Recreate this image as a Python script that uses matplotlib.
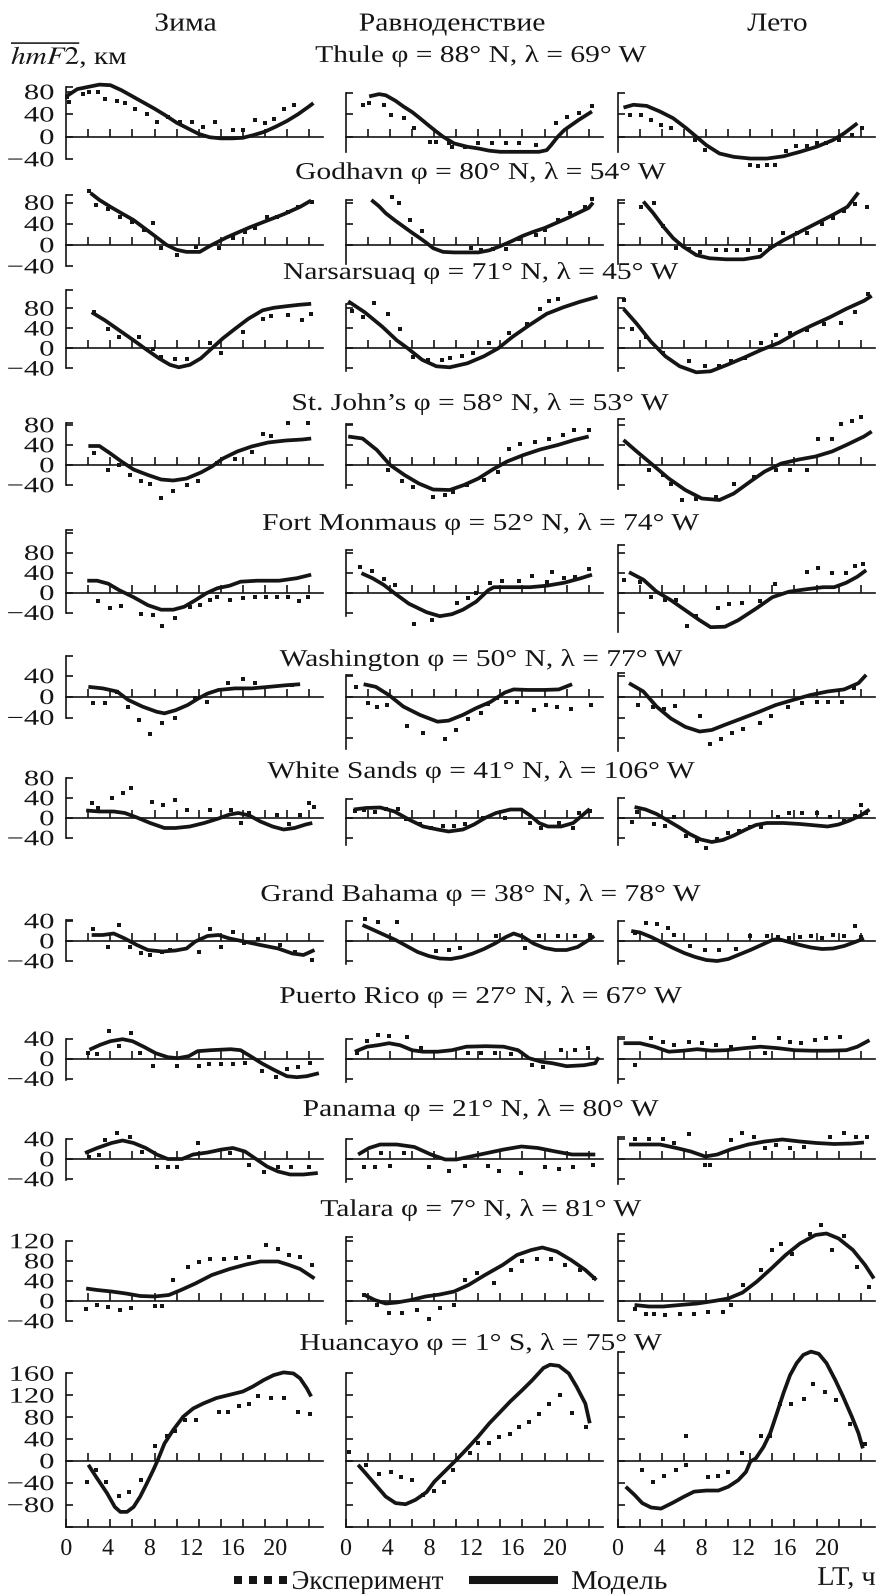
import numpy as np
import matplotlib
matplotlib.use("Agg")
import matplotlib.pyplot as plt
from matplotlib.lines import Line2D
from matplotlib.textpath import TextPath
from matplotlib.patches import PathPatch
from matplotlib.font_manager import FontProperties
from matplotlib.transforms import Affine2D, IdentityTransform

plt.rcParams["font.family"] = ["Liberation Serif", "DejaVu Serif"]
plt.rcParams["mathtext.fontset"] = "stix"

# ── data: (hour LT, deviation of hmF2 in km) ──────────────────────────────────
SEASONS = ["Зима", "Равноденствие", "Лето"]
STATIONS = [
    "Thule φ = 88° N, λ = 69° W",
    "Godhavn φ = 80° N, λ = 54° W",
    "Narsarsuaq φ = 71° N, λ = 45° W",
    "St. John’s φ = 58° N, λ = 53° W",
    "Fort Monmaus φ = 52° N, λ = 74° W",
    "Washington φ = 50° N, λ = 77° W",
    "White Sands φ = 41° N, λ = 106° W",
    "Grand Bahama φ = 38° N, λ = 78° W",
    "Puerto Rico φ = 27° N, λ = 67° W",
    "Panama φ = 21° N, λ = 80° W",
    "Talara φ = 7° N, λ = 81° W",
    "Huancayo φ = 1° S, λ = 75° W",
]

thule_win_model = [(0, 72), (1, 85), (2, 89), (3, 93), (4, 92), (5, 83), (6, 72), (7, 61), (8, 50), (9, 38), (10, 25), (11, 15), (12, 5), (13, -1), (14, -3), (15, -3), (16, -2), (17, 3), (18, 9), (19, 18), (20, 28), (21, 40), (22, 54), (22.4, 60)]
thule_win_exp = [(0.1, 71), (0.2, 62), (1.5, 77), (2.1, 79), (2.9, 80), (3.5, 68), (4.6, 64), (5.3, 60), (6.2, 50), (7.3, 40), (8.2, 26), (9.2, 36), (10.3, 26), (11.4, 26), (12.4, 18), (13.5, 26), (15.1, 12), (16, 12), (17.1, 29), (18, 25), (18.8, 32), (19.7, 50), (20.6, 57)]
thule_equ_model = [(2.1, 72), (3, 76), (3.6, 74), (4.5, 64), (5.2, 54), (6, 44), (6.7, 33), (7.5, 20), (8.2, 9), (8.8, 0), (9.8, -12), (11, -18), (12, -21), (13, -25), (14, -27), (16, -27), (17.5, -27), (18.2, -24), (18.6, -15), (19.2, 0), (19.8, 12), (21.1, 30), (22.3, 45)]
thule_equ_exp = [(1.5, 57), (2.1, 61), (3.4, 57), (4.1, 39), (5.3, 33), (6.2, 15), (7.6, -9), (8.2, -9), (9.3, -12), (9.6, -18), (10.8, -18), (12, -12), (13.2, -12), (14.5, -12), (15.7, -12), (17.2, -15), (19, 24), (20, 36), (21.1, 42), (22.3, 54)]
thule_sum_model = [(0.5, 52), (1.4, 57), (2.6, 55), (3.8, 45), (5, 33), (6.2, 15), (7.1, 0), (8, -15), (9.2, -30), (10.5, -36), (12, -39), (13.5, -39), (15, -35), (16.5, -27), (18, -18), (19.5, -6), (20.5, 6), (21.7, 24)]
thule_sum_exp = [(1.1, 39), (2.1, 39), (3, 29), (3.9, 21), (4.8, 15), (7, -6), (7.9, -24), (12, -51), (12.7, -52), (13.5, -51), (14.2, -51), (15.2, -25), (16.1, -17), (17.1, -17), (18, -12), (18.9, -12), (20, -6), (21.2, 3), (22.1, 15)]

godhavn_win_model = [(2.2, 98), (3, 85), (4, 72), (5, 60), (6.1, 47), (7, 33), (7.9, 19), (9.1, 0), (10, -9), (10.9, -13), (12.1, -13), (13, -2), (14.5, 14), (16.6, 33), (18.2, 46), (19.7, 58), (21.2, 72), (22.2, 84)]
godhavn_win_exp = [(2.1, 102), (2.7, 75), (3.8, 67), (4.9, 52), (6, 44), (7, 28), (7.9, 42), (8.6, -6), (10, -19), (11.8, -3), (13.8, -6), (15.1, 14), (16.2, 25), (17.1, 33), (18.2, 52), (19.1, 52), (20.1, 63), (21, 72), (22.3, 82)]
godhavn_equ_model = [(2.3, 85), (3, 73), (3.6, 60), (4.4, 47), (5.2, 35), (6, 23), (6.7, 13), (7.3, 4), (7.9, -6), (8.8, -13), (9.8, -14), (11, -14), (12, -14), (13, -10), (14, -2), (15, 7), (16, 17), (17, 25), (18, 32), (19, 41), (20, 50), (21, 60), (22, 70), (22.4, 80)]
godhavn_equ_exp = [(4.2, 90), (4.8, 80), (5.8, 47), (6.9, 27), (11.3, -6), (12.2, -10), (13.3, -8), (14.5, -8), (15.7, 12), (17.2, 19), (18, 28), (19.2, 47), (20.3, 61), (21.7, 72), (22.3, 86)]
godhavn_sum_model = [(2.3, 82), (3.2, 60), (4.1, 35), (5, 13), (5.9, -3), (7.1, -19), (8.3, -25), (9.8, -27), (11.4, -27), (12.9, -22), (13.8, -6), (15, 9), (16.5, 25), (18, 41), (19.5, 57), (20.8, 72), (21.8, 99)]
godhavn_sum_exp = [(2.1, 72), (3.3, 80), (4.1, 35), (5.3, -6), (6.4, -8), (7.4, -13), (8.9, -9), (9.8, -9), (10.8, -9), (11.8, -9), (12.9, -9), (13.8, -6), (15, 22), (16.2, 22), (17.1, 22), (18.5, 40), (19.5, 50), (20.5, 65), (21.5, 77), (22.6, 72)]

narsarsuaq_win_model = [(2.3, 72), (3.5, 56), (4.8, 36), (6.1, 16), (7.1, 0), (8.4, -20), (9.4, -33), (10.2, -38), (11.2, -33), (12.2, -20), (13.2, 0), (14.2, 20), (15.3, 39), (16.5, 59), (17.8, 76), (18.8, 81), (19.9, 84), (21.1, 87), (22.2, 89)]
narsarsuaq_win_exp = [(2.5, 72), (3.8, 39), (4.8, 22), (6.6, 23), (7.9, -2), (8.6, -18), (9.9, -22), (10.9, -22), (13, 11), (14, -10), (16, 33), (17.8, 59), (18.6, 64), (20.1, 67), (21.4, 57), (22.2, 69)]
narsarsuaq_equ_model = [(0.2, 94), (1.7, 72), (3.3, 43), (4.6, 16), (5.6, 0), (6.9, -23), (8.2, -36), (9.4, -38), (11, -30), (12.5, -16), (13.8, 0), (15.1, 23), (16.6, 46), (18.2, 69), (19.7, 82), (21.2, 93), (22.8, 103)]
narsarsuaq_equ_exp = [(0.5, 74), (1.5, 63), (2.5, 90), (3.8, 69), (4.9, 38), (6.1, -18), (7.4, -24), (8.7, -24), (9.4, -20), (10.5, -16), (11.5, -10), (13, 11), (14.8, 31), (16.4, 49), (17.6, 78), (18.4, 95), (19.2, 99)]
narsarsuaq_sum_model = [(0.5, 79), (1.7, 49), (3, 13), (4.3, -16), (5.6, -36), (7.1, -48), (8.4, -46), (9.9, -33), (11.5, -18), (13, -3), (14.6, 11), (16.1, 30), (17.6, 46), (19.2, 62), (20.7, 79), (22.3, 95), (23, 105)]
narsarsuaq_sum_exp = [(0.5, 97), (1.3, 39), (2.5, 23), (4.1, -9), (6.4, -26), (7.9, -36), (9.2, -36), (10.2, -26), (11.5, -20), (13, 10), (14.3, 26), (15.6, 31), (17.1, 36), (18.7, 48), (20.2, 51), (21.5, 72), (22.7, 108)]

stjohns_win_model = [(2, 38), (3, 38), (4, 23), (5, 7), (6.1, -9), (7.4, -20), (8.6, -29), (9.7, -31), (10.9, -27), (12.2, -15), (13.2, -3), (14.2, 13), (15.5, 27), (16.8, 37), (18.3, 45), (19.9, 49), (21.4, 51), (22.2, 53)]
stjohns_win_exp = [(2.5, 25), (3.8, -10), (4.8, 0), (5.8, -20), (6.8, -31), (7.6, -37), (8.6, -65), (9.7, -51), (10.9, -40), (11.9, -31), (13.7, 5), (15.3, 13), (16.8, 27), (17.8, 63), (18.6, 59), (20.1, 85), (21.9, 85)]
stjohns_equ_model = [(0.2, 57), (1.5, 53), (2.8, 30), (4, 0), (5.3, -20), (6.6, -37), (7.9, -49), (9.4, -50), (10.7, -40), (12, -27), (13.3, -9), (14.6, 7), (16.1, 20), (17.6, 31), (19.2, 40), (20.7, 50), (22, 57)]
stjohns_equ_exp = [(3.8, -10), (5.1, -31), (6.1, -43), (7.9, -63), (9, -60), (9.7, -53), (11, -40), (12.5, -30), (13.8, -13), (14.8, 33), (15.8, 43), (17.1, 47), (18.4, 53), (19.7, 60), (20.7, 71), (22, 71)]
stjohns_sum_model = [(0.5, 50), (1.7, 27), (3, 3), (4.6, -27), (6.1, -50), (7.6, -67), (9.2, -70), (10.5, -57), (12, -33), (13.3, -13), (14.8, 3), (16.4, 11), (17.9, 17), (19.4, 27), (20.7, 40), (22.3, 57), (23, 67)]
stjohns_sum_exp = [(2.8, -10), (4.1, -20), (4.8, -37), (5.8, -69), (7.1, -67), (8.9, -63), (10.5, -37), (12.3, -23), (14.3, -10), (15.6, -10), (17.1, -10), (18.1, 53), (19.4, 53), (20.2, 82), (21.2, 89), (22, 97)]

fortmon_win_model = [(1.9, 24), (2.8, 24), (3.8, 18), (4.8, 5), (6.1, -9), (7.4, -25), (8.6, -34), (9.7, -34), (10.7, -28), (11.7, -15), (12.7, -1), (13.7, 9), (14.8, 14), (15.8, 22), (17.3, 24), (19.3, 24), (20.9, 29), (22.2, 36)]
fortmon_win_exp = [(2.9, -16), (4, -30), (5, -27), (6.8, -42), (7.9, -45), (8.7, -66), (9.9, -50), (11.2, -28), (12.1, -25), (13, -15), (13.7, -9), (14.8, -14), (16, -11), (17.1, -9), (18.1, -9), (19.1, -9), (20.1, -9), (21.1, -16), (21.9, -9)]
fortmon_equ_model = [(1.4, 39), (2.4, 29), (3.4, 16), (4.4, -1), (5.7, -22), (7.3, -39), (8.5, -47), (9.6, -43), (10.6, -34), (11.8, -18), (12.9, 5), (13.4, 11), (14.7, 11), (16.7, 11), (18.2, 14), (19.8, 20), (21.3, 29), (22.3, 36)]
fortmon_equ_exp = [(1.3, 51), (2.4, 43), (3.4, 27), (4.4, 16), (6.2, -62), (7.8, -54), (10.1, -20), (11.1, -11), (11.8, -1), (13.1, 19), (14.1, 24), (15.7, 24), (16.9, 34), (18.2, 22), (18.7, 41), (19.8, 29), (20.8, 32), (22, 47)]
fortmon_sum_model = [(1, 41), (2.3, 26), (3.5, 2), (4.8, -15), (6.1, -35), (7.4, -55), (8.4, -69), (9.7, -68), (10.9, -55), (12.5, -32), (14, -9), (15.5, 2), (17.1, 7), (18.6, 11), (19.6, 11), (20.7, 20), (21.7, 32), (22.5, 45)]
fortmon_sum_exp = [(0.5, 26), (2, 22), (3, -9), (4.3, -14), (5.3, -14), (6.3, -66), (7.1, -47), (9.1, -30), (10.1, -23), (11.2, -20), (12.9, -16), (14.2, 18), (17.1, 42), (18.1, 49), (19.4, 39), (20.7, 39), (21.5, 54), (22.2, 58)]

washington_win_model = [(2, 19), (3.3, 16), (4.6, 10), (5.6, -6), (6.9, -19), (8.2, -29), (8.9, -32), (9.9, -26), (11, -16), (12, -3), (12.8, 6), (13.8, 13), (15.3, 16), (16.8, 16), (18.4, 19), (19.9, 22), (21.2, 24)]
washington_win_exp = [(2.4, -12), (3.5, -12), (4.6, 10), (5.6, -19), (6.6, -44), (7.6, -71), (8.7, -51), (9.9, -40), (11.7, -3), (12.8, -10), (14.7, 26), (16, 35), (17.1, 26), (20.5, 22)]
washington_equ_model = [(1.6, 24), (2.7, 19), (3.9, 3), (5.2, -19), (6.7, -35), (8.3, -48), (9.3, -46), (10.6, -35), (11.8, -22), (13.1, -10), (14.4, 8), (15.2, 14), (16.5, 13), (18, 13), (19.3, 14), (20.5, 24)]
washington_equ_exp = [(0.9, 18), (2, -13), (2.8, -19), (3.7, -16), (5.5, -56), (7, -69), (9, -82), (10, -64), (11.1, -42), (12.2, -31), (12.9, -14), (13.7, -3), (14.5, -10), (15.5, -10), (17, -26), (18.1, -16), (19.1, -19), (20.4, -24), (22.2, -16)]
washington_sum_model = [(1, 26), (2.3, 10), (3.5, -19), (4.8, -42), (6.1, -58), (7.4, -67), (8.5, -64), (9.7, -54), (11.2, -42), (12.8, -29), (14.3, -16), (15.9, -6), (17.4, 3), (19, 10), (20.5, 14), (21.8, 26), (22.5, 42)]
washington_sum_exp = [(1.8, -16), (3.2, -19), (4.2, -24), (5.2, -18), (7.4, -37), (8.3, -90), (9.3, -82), (10.3, -70), (11.3, -63), (12.9, -51), (13.9, -38), (15.4, -19), (16.7, -12), (18, -10), (19, -10), (20.3, -10), (21.4, 16)]

whitesands_win_model = [(1.8, 15), (3, 13), (4.3, 13), (5.3, 10), (6.4, 1), (7.6, -10), (8.9, -20), (9.9, -20), (11.2, -17), (12.5, -10), (13.8, -1), (14.8, 7), (15.6, 10), (16.6, 5), (17.6, -7), (18.7, -17), (19.7, -23), (20.7, -20), (21.7, -13), (22.3, -10)]
whitesands_win_exp = [(2.3, 30), (2.9, 20), (4.1, 40), (5.1, 50), (5.9, 60), (7.8, 32), (8.8, 25), (9.9, 36), (10.9, 15), (13, 15), (14.9, 15), (15.8, -10), (16.6, 10), (19.1, 5), (20.2, -12), (21.2, 5), (22, 30), (22.5, 22)]
whitesands_equ_model = [(0.7, 17), (1.8, 20), (3.1, 21), (4.4, 13), (5.7, -3), (7, -17), (8.3, -23), (9.3, -27), (10.6, -23), (11.6, -13), (12.6, 0), (13.6, 10), (14.9, 17), (15.9, 17), (16.7, 5), (17.5, -10), (18.3, -17), (19.5, -17), (20.6, -10), (21.3, 3), (22.1, 18)]
whitesands_equ_exp = [(0.8, 13), (1.6, 15), (2.6, 12), (3.6, 17), (4.7, 17), (5.4, -3), (6.7, -13), (7.7, -20), (8.8, -17), (9.8, -17), (10.8, -13), (12.4, 0), (14.4, 0), (16.7, -10), (17.7, -20), (19.3, -10), (20.6, -20), (21.1, 10), (22.1, 13)]
whitesands_sum_model = [(1.5, 22), (2.5, 17), (3.5, 8), (4.5, -5), (5.5, -18), (6.5, -32), (7.5, -43), (8.5, -48), (9.5, -44), (10.5, -35), (11.5, -24), (12.5, -14), (13.5, -10), (15, -10), (16.5, -12), (18, -15), (19, -17), (20, -13), (21, -5), (22, 5), (22.8, 17)]
whitesands_sum_exp = [(1.3, -7), (1.7, 13), (3.3, -12), (4.3, -15), (5.1, 3), (6.2, -35), (7.2, -45), (8, -60), (9, -42), (10, -30), (11, -25), (12, -18), (13, -18), (14.5, 2), (15.5, 10), (16.7, 10), (18, 10), (19.2, 2), (20.5, -5), (21.5, 5), (22, 27), (22.5, 10)]

bahama_win_model = [(2.3, 12), (3.3, 12), (4.3, 15), (5.3, 5), (6.4, -8), (7.4, -18), (8.7, -21), (9.9, -19), (10.9, -15), (11.7, -1), (12.8, 10), (13.8, 12), (14.8, 5), (16.1, -1), (17.6, -8), (19.2, -15), (20.5, -25), (21.5, -28), (22.5, -18)]
bahama_win_exp = [(2.4, 25), (3.8, -11), (4.8, 32), (5.8, -11), (6.8, -23), (7.6, -28), (8.7, -21), (9.4, -18), (12, -21), (13, 25), (14, -11), (15.1, 19), (16.1, -3), (17.4, 5), (19.4, -8), (20.7, -21), (22.3, -38)]
bahama_equ_model = [(1.5, 32), (2.5, 22), (3.5, 12), (4.5, 2), (5.5, -10), (6.5, -22), (7.5, -30), (8.5, -35), (9.5, -36), (10.5, -32), (11.5, -25), (12.5, -16), (13.5, -5), (14.5, 8), (15.2, 15), (16, 9), (17, -5), (18, -14), (19, -18), (20, -18), (21, -12), (22, 2), (22.5, 10)]
bahama_equ_exp = [(1.7, 43), (2.9, 37), (4.6, 37), (8.2, -21), (9.3, -18), (10.3, -15), (13.6, 10), (16.2, -15), (17.5, 10), (19.2, 10), (20.8, 10), (22.1, 12)]
bahama_sum_model = [(1.2, 20), (2, 17), (3, 8), (4, -3), (5, -14), (6, -24), (7, -32), (8, -38), (9, -40), (10, -36), (11, -27), (12, -18), (13, -8), (14, 2), (14.5, 4), (15.5, -2), (16.5, -8), (17.5, -13), (18.5, -16), (19.5, -15), (20.5, -10), (21.5, -2), (22.3, 5)]
bahama_sum_exp = [(1.5, 15), (2.5, 35), (3.5, 33), (4.5, 25), (5.1, 12), (6.5, -10), (7.9, -18), (9.2, -18), (10.7, -17), (12, 10), (13.5, 10), (14.5, 8), (15.5, 5), (16.5, 8), (17.5, 10), (18.5, 5), (19.5, 12), (20.5, 10), (21.5, 30), (22, 8)]

puerto_win_model = [(2.1, 18), (3.1, 28), (4, 35), (5.1, 39), (6, 35), (7.1, 23), (8.1, 11), (9.2, 3), (10.1, 1), (11.1, 5), (11.9, 15), (13.1, 17), (14.9, 19), (15.8, 17), (16.7, 5), (17.7, -9), (18.8, -22), (20, -35), (20.9, -37), (21.8, -35), (22.9, -29)]
puerto_win_exp = [(2, 12), (2.8, 9), (3.9, 55), (4.8, 25), (5.9, 51), (6.7, 12), (7.9, -15), (10, -15), (12, -15), (12.9, -11), (14, -11), (15.1, -11), (16.2, -9), (17.7, -24), (19, -36), (20, -21), (21, -17), (22.1, -9)]
puerto_equ_model = [(0.8, 14), (1.9, 24), (2.9, 27), (3.9, 31), (4.9, 27), (6, 17), (7, 14), (8.3, 14), (9.6, 17), (10.9, 24), (12.7, 25), (14.3, 24), (15.6, 17), (16.6, 1), (17.7, -6), (18.7, -9), (20, -15), (21.6, -13), (22.6, -9), (22.9, 3)]
puerto_equ_exp = [(1, 11), (1.9, 36), (2.9, 47), (3.9, 45), (5.5, 43), (6.8, 21), (11.1, 11), (12.2, 11), (13.5, 11), (15, 9), (16.9, -13), (17.9, -17), (19.5, 17), (20.8, 17), (21.9, 21)]
puerto_sum_model = [(0.5, 31), (2, 31), (3.3, 24), (4.6, 14), (5.9, 16), (7.2, 19), (8.5, 16), (9.8, 17), (11.4, 21), (12.9, 24), (14.5, 21), (16, 17), (17.6, 16), (19.1, 16), (20.7, 17), (21.7, 24), (22.8, 37)]
puerto_sum_exp = [(1.5, -13), (3, 41), (4.1, 34), (5.1, 27), (6.4, 34), (7.6, 31), (8.9, 27), (10.2, 24), (12.3, 41), (13.3, 12), (14.6, 41), (15.6, 34), (16.6, 31), (17.9, 37), (18.9, 41), (20.1, 44)]

panama_win_model = [(1.7, 12), (2.8, 22), (4.1, 32), (5.1, 37), (6.1, 32), (7.2, 22), (8.2, 9), (9.2, 0), (10.5, 0), (11.5, 9), (12.8, 13), (14.1, 19), (15.1, 22), (16.2, 15), (17.2, 0), (18.2, -15), (19.2, -25), (20.3, -31), (21.5, -31), (22.8, -28)]
panama_win_exp = [(2.1, 5), (3, 9), (3.5, 39), (4.6, 52), (5.8, 45), (6.9, 15), (8.2, -16), (9.2, -15), (10, -16), (11.9, 32), (14.8, 12), (16.6, -11), (17.9, -25), (19.2, -16), (20.4, -16), (22, -16)]
panama_equ_model = [(1.1, 9), (2.1, 22), (3.1, 29), (4.6, 29), (6.2, 24), (7.7, 9), (9, -1), (10, -1), (11.3, 5), (12.8, 12), (14.3, 19), (15.9, 25), (17.4, 22), (19, 15), (20.5, 9), (22.1, 9), (22.6, 9)]
panama_equ_exp = [(1.6, -15), (2.6, -15), (3.2, 12), (4, -13), (5.3, 12), (7.5, -16), (9.3, -23), (10.8, -13), (12.9, -13), (13.9, -23), (15.9, -28), (18, -16), (19.3, -20), (20.6, -15), (22.4, -11)]
panama_sum_model = [(1, 29), (2.3, 29), (3.8, 29), (5.3, 22), (6.6, 15), (7.9, 5), (9, 9), (10.2, 19), (11.8, 29), (13.3, 35), (14.9, 39), (16.5, 35), (18, 32), (19.6, 30), (21.2, 31), (22.3, 33)]
panama_sum_exp = [(1.5, 40), (2.8, 40), (4.1, 40), (5.1, 33), (6.4, 51), (7.9, -11), (8.3, -11), (10.2, 39), (11.2, 52), (12.3, 45), (13.3, 22), (14.3, 29), (15.6, 22), (16.9, 24), (19.2, 45), (20.5, 52), (21.6, 44), (22.6, 44)]

talara_win_model = [(1.8, 25), (2.8, 22), (4.1, 19), (5.4, 15), (6.7, 10), (8, 9), (9.3, 12), (10.4, 22), (11.7, 35), (13.2, 52), (14.8, 64), (16.3, 73), (17.6, 79), (19.2, 79), (20.2, 72), (21.2, 64), (22.5, 45)]
talara_win_exp = [(1.8, -15), (2.8, -8), (3.8, -11), (4.9, -18), (5.9, -13), (8, -9), (8.7, -9), (9.7, 42), (11, 69), (12, 78), (13, 84), (14.3, 85), (15.4, 87), (16.6, 89), (18.1, 112), (19.2, 104), (20.2, 92), (21.2, 89), (22.3, 72)]
talara_equ_model = [(1.6, 13), (2.6, 2), (3.6, -5), (4.6, -3), (5.9, 2), (7.2, 9), (8.5, 13), (9.8, 19), (11.1, 32), (12.6, 52), (14.2, 72), (15.5, 92), (16.8, 102), (17.8, 107), (19.1, 99), (20.4, 82), (21.7, 62), (22.7, 42)]
talara_equ_exp = [(1.6, 12), (2.8, -8), (3.9, -23), (5.1, -23), (6.4, -18), (7.5, -36), (8.5, -13), (9.8, -8), (10.8, 42), (11.9, 57), (13.4, 37), (15, 62), (16, 80), (17.3, 85), (18.6, 85), (19.9, 72), (21.2, 62), (22.5, 47)]
talara_sum_model = [(1.5, -8), (2.8, -11), (4.1, -11), (5.6, -8), (7.2, -5), (8.7, 0), (10, 5), (11.3, 17), (12.6, 39), (13.9, 65), (15.2, 92), (16.5, 115), (17.9, 132), (18.9, 135), (20, 125), (21.3, 102), (22.4, 72), (23.2, 45)]
talara_sum_exp = [(1.5, -15), (2.5, -25), (3.3, -25), (4.3, -28), (5.6, -25), (6.9, -25), (8.2, -21), (9.5, -21), (10.2, -8), (11.3, 32), (13, 62), (14, 102), (14.8, 115), (15.8, 95), (17.4, 135), (18.4, 152), (19.4, 102), (20.5, 130), (21.7, 69), (22.8, 29)]

huancayo_win_model = [(2, -7), (2.7, -29), (3.7, -59), (4.4, -84), (4.9, -93), (5.5, -93), (6.1, -84), (6.7, -65), (7.3, -41), (7.9, -16), (8.3, 2), (8.9, 32), (9.7, 57), (10.6, 81), (11.5, 96), (12.4, 105), (13.6, 115), (14.8, 121), (16, 127), (16.9, 136), (17.9, 148), (18.8, 157), (19.7, 162), (20.6, 160), (21.2, 151), (21.8, 133), (22.2, 118)]
huancayo_win_exp = [(1.9, -38), (2.7, -16), (3.6, -38), (4.8, -64), (5.7, -56), (6.8, -35), (8, 28), (9.1, 45), (9.9, 54), (10.8, 75), (11.8, 75), (13.8, 90), (14.7, 90), (15.7, 101), (16.6, 104), (17.4, 119), (18.6, 115), (19.7, 115), (21, 90), (22.1, 86)]
huancayo_equ_model = [(1.1, -7), (1.8, -23), (2.7, -44), (3.6, -65), (4.5, -77), (5.4, -79), (6.3, -71), (7.3, -57), (8, -38), (9.1, -16), (10, 2), (11, 23), (12, 45), (13, 69), (14, 90), (14.9, 109), (16, 130), (16.9, 148), (17.9, 170), (18.5, 176), (19.3, 174), (20.2, 160), (20.9, 136), (21.7, 105), (22.1, 69)]
huancayo_equ_exp = [(0.3, 17), (1.8, -7), (3, -23), (4.1, -20), (5, -30), (6, -35), (7, -62), (8, -55), (8.9, -38), (9.7, -16), (11.2, 14), (12, 32), (13, 32), (13.9, 43), (14.9, 49), (15.7, 62), (16.6, 72), (17.5, 86), (18.4, 105), (19.4, 121), (20.5, 87), (21.8, 62)]
huancayo_sum_model = [(0.7, -47), (1.5, -62), (2.2, -77), (3, -85), (3.9, -87), (4.9, -77), (6, -65), (6.9, -56), (8, -54), (9.1, -54), (10, -47), (10.9, -35), (11.6, -20), (12, -1), (12.5, 5), (13.2, 26), (13.8, 51), (14.4, 87), (15, 124), (15.6, 157), (16.2, 179), (16.8, 194), (17.5, 200), (18.2, 196), (18.9, 179), (19.7, 148), (20.4, 118), (21.2, 81), (21.8, 51), (22.2, 23)]
huancayo_sum_exp = [(2.2, -16), (3.2, -38), (4.2, -27), (5.3, -16), (6.2, -7), (6.2, 46), (8.2, -30), (9.1, -27), (10, -20), (11.2, 14), (13, 46), (13.8, 46), (14.7, 104), (15.7, 104), (16.9, 113), (17.7, 141), (18.8, 127), (19.8, 112), (21, 68), (22.4, 31)]

# y tick labels shown on the left column of each row, hour labels of the last row
LEFT_LABELS = [
    [80, 40, 0, -40], [80, 40, 0, -40], [80, 40, 0, -40], [80, 40, 0, -40],
    [80, 40, 0, -40], [40, 0, -40], [80, 40, 0, -40], [40, 0, -40],
    [40, 0, -40], [40, 0, -40], [120, 80, 40, 0, -40],
    [160, 120, 80, 40, 0, -40, -80],
]
HOUR_LABELS = [0, 4, 8, 12, 16, 20]

PANELS = [
    [(thule_win_model, thule_win_exp), (thule_equ_model, thule_equ_exp), (thule_sum_model, thule_sum_exp)],
    [(godhavn_win_model, godhavn_win_exp), (godhavn_equ_model, godhavn_equ_exp), (godhavn_sum_model, godhavn_sum_exp)],
    [(narsarsuaq_win_model, narsarsuaq_win_exp), (narsarsuaq_equ_model, narsarsuaq_equ_exp), (narsarsuaq_sum_model, narsarsuaq_sum_exp)],
    [(stjohns_win_model, stjohns_win_exp), (stjohns_equ_model, stjohns_equ_exp), (stjohns_sum_model, stjohns_sum_exp)],
    [(fortmon_win_model, fortmon_win_exp), (fortmon_equ_model, fortmon_equ_exp), (fortmon_sum_model, fortmon_sum_exp)],
    [(washington_win_model, washington_win_exp), (washington_equ_model, washington_equ_exp), (washington_sum_model, washington_sum_exp)],
    [(whitesands_win_model, whitesands_win_exp), (whitesands_equ_model, whitesands_equ_exp), (whitesands_sum_model, whitesands_sum_exp)],
    [(bahama_win_model, bahama_win_exp), (bahama_equ_model, bahama_equ_exp), (bahama_sum_model, bahama_sum_exp)],
    [(puerto_win_model, puerto_win_exp), (puerto_equ_model, puerto_equ_exp), (puerto_sum_model, puerto_sum_exp)],
    [(panama_win_model, panama_win_exp), (panama_equ_model, panama_equ_exp), (panama_sum_model, panama_sum_exp)],
    [(talara_win_model, talara_win_exp), (talara_equ_model, talara_equ_exp), (talara_sum_model, talara_sum_exp)],
    [(huancayo_win_model, huancayo_win_exp), (huancayo_equ_model, huancayo_equ_exp), (huancayo_sum_model, huancayo_sum_exp)],
]

# ── layout (pixels of the 876x1594 picture) ───────────────────────────────────
W, H = 876, 1594
INK = "#151515"
COL_X = [66.3, 346.0, 618.0]
PX_PER_H = 11.03
LABEL_PX_PER_H = 10.45      # hour labels in the scan sit a little left of their ticks
X_MAX = 23.3
ROW_ZERO = [136.7, 245, 348.3, 465, 592.7, 696.7, 818, 941, 1058.7, 1159, 1301, 1461]
ROW_SCALE = [0.56, 0.53, 0.5, 0.5, 0.5, 0.52, 0.5, 0.5, 0.5, 0.5, 0.5, 0.547]
TITLE_Y = [54, 171, 271, 402, 522, 658, 770, 893, 995, 1108, 1208, 1342]
BOTTOM_AXIS = -120
SPINES = [
    [(-40, 88), (-28, 78), (-28, 78)],
    [(-40, 95), (-35, 85), (-35, 85)],
    [(-40, 117), (-45, 88), (-45, 100)],
    [(-40, 85), (-45, 83), (-47, 93)],
    [(-40, 125), (-47, 85), (-78, 95)],
    [(-40, 78), (-100, 42), (-105, 45)],
    [(-40, 80), (-55, 38), (-55, 40)],
    [(-40, 42), (-46, 40), (-46, 40)],
    [(-42, 40), (-46, 40), (-49, 43)],
    [(-42, 40), (-46, 40), (-50, 45)],
    [(-40, 120), (-45, 128), (-40, 135)],
    [(BOTTOM_AXIS, 160), (BOTTOM_AXIS, 160), (BOTTOM_AXIS, 200)],
]

SERIF = FontProperties(family="Liberation Serif")


def fx(px):
    return px / W


def fy(py):
    return 1 - py / H


def minus(v):
    return str(v).replace("-", "\u2212")


fig = plt.figure(figsize=(W / 100, H / 100), dpi=100)


def put_text(x, y, text, em, stretch=1.0, ha="center"):
    """Text as a path, widened like the scanned original; y is the middle of the capitals."""
    path = TextPath((0, 0), text, size=em, prop=SERIF)
    ext = path.get_extents()
    width = ext.width * stretch
    x0 = {"left": x, "center": x - width / 2, "right": x - width}[ha]
    tr = (Affine2D().translate(-ext.x0, 0).scale(stretch, 1.0)
          .translate(x0, H - y - 0.33 * em))
    fig.add_artist(PathPatch(tr.transform_path(path), transform=IdentityTransform(),
                             facecolor=INK, edgecolor="none", lw=0))


for r in range(len(STATIONS)):
    s = ROW_SCALE[r]
    last = r == len(STATIONS) - 1
    for c in range(3):
        lo, hi = SPINES[r][c]
        top_px = ROW_ZERO[r] - hi * s
        bot_px = ROW_ZERO[r] - lo * s
        ax = fig.add_axes([fx(COL_X[c]), fy(bot_px), PX_PER_H * X_MAX / W, (bot_px - top_px) / H])
        ax.set_xlim(0, X_MAX)
        ax.set_ylim(lo, hi)
        ax.patch.set_visible(False)
        for side in ("top", "right"):
            ax.spines[side].set_visible(False)
        ax.spines["left"].set_linewidth(1.2)
        ax.spines["left"].set_color(INK)

        ticks = sorted({v for v in range(-160, 241, 40) if lo - 1 <= v <= hi + 1} | {hi})
        ax.set_yticks(ticks)
        ax.set_yticklabels([])
        ax.tick_params(axis="y", direction="in", length=5, width=1.2, colors=INK)
        if c == 0:
            for v in LEFT_LABELS[r]:
                put_text(COL_X[0] - 13, ROW_ZERO[r] - v * s, minus(v), 22, 1.39, ha="right")

        if last:
            ax.spines["bottom"].set_linewidth(1.2)
            ax.spines["bottom"].set_color(INK)
            ax.set_xticks(np.arange(0, 23, 2))
            ax.set_xticklabels([])
            ax.tick_params(axis="x", direction="in", length=6, width=1.2, colors=INK)
            for h in HOUR_LABELS:
                put_text(COL_X[c] + h * LABEL_PX_PER_H, 1547, str(h), 24, 1.0)
        else:
            ax.spines["bottom"].set_visible(False)
            ax.set_xticks([])

        # zero line with upward hour ticks
        ax.plot([0, X_MAX], [0, 0], color=INK, lw=1.2, clip_on=False)
        ax.vlines(np.arange(2, 23, 2), 0, 8 / s, color=INK, lw=1.2, clip_on=False)

        model, exp = PANELS[r][c]
        mh, mv = zip(*model)
        eh, ev = zip(*exp)
        ax.plot(mh, mv, color=INK, lw=2.7, solid_capstyle="butt", clip_on=False)
        ax.plot(eh, ev, ls="none", marker="s", ms=3.4, color=INK, mew=0, clip_on=False)

    put_text(481, TITLE_Y[r], STATIONS[r], 24, 1.23)

# column headers and axis name
for x, name in zip([186, 452, 777], SEASONS):
    put_text(x, 22, name, 26, 1.14)
put_text(11, 56, r"$\overline{hmF\mathrm{2}}$, км", 25, 1.17, ha="left")

# legend and time axis name
ly = 1580
fig.add_artist(Line2D([fx(x) for x in (238, 253, 268, 283)], [fy(ly)] * 4, ls="none",
                      marker="s", ms=5.8, mew=0, color=INK, transform=fig.transFigure))
put_text(293, ly, "Эксперимент", 27, 1.0, ha="left")
fig.add_artist(Line2D([fx(469), fx(558)], [fy(ly), fy(ly)], lw=5.8, color=INK,
                      solid_capstyle="butt", transform=fig.transFigure))
put_text(572, ly, "Модель", 27, 1.1, ha="left")
put_text(875, 1576, "LT, ч", 27, 1.05, ha="right")

fig.savefig("out.png", dpi=100)
